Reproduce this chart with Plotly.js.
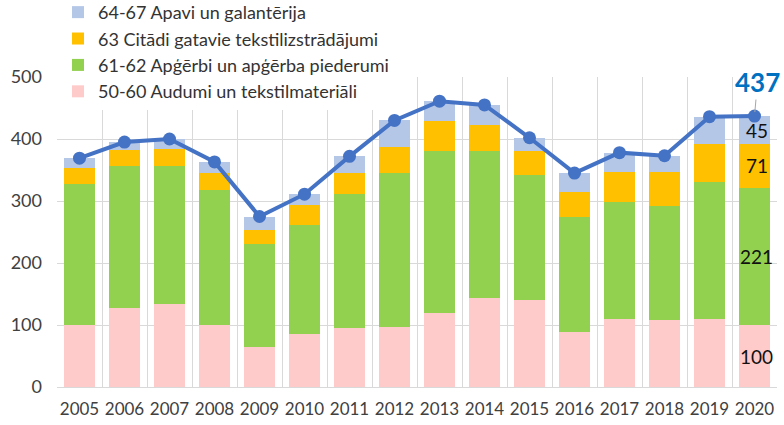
<!DOCTYPE html>
<html>
<head>
<meta charset="utf-8">
<script src="https://cdn.plot.ly/plotly-3.0.1.min.js"></script>
<style>html,body{margin:0;padding:0;background:#fff;}#chart{width:784px;height:425px;}</style>
</head>
<body>
<div id="chart"></div>
<script>
const years = ['2005','2006','2007','2008','2009','2010','2011','2012','2013','2014','2015','2016','2017','2018','2019','2020'];
const fabrics   = [100,127,134,100,65,86,95,97,120,143,140,88,109,108,109,100]; // 50-60
const clothing  = [227,229,222,217,166,175,217,248,261,237,202,186,190,184,222,221]; // 61-62
const otherText = [27,27,28,28,23,32,33,42,48,43,38,41,48,55,61,71]; // 63
const footwear  = [15,12,16,18,21,18,27,43,32,32,22,30,31,26,44,45]; // 64-67
const totals    = [369,395,400,363,275,311,372,430,461,455,402,345,378,373,436,437];
const names = ['50-60 Audumi un tekstilmateriāli','61-62 Apģērbi un apģērba piederumi','63 Citādi gatavie tekstilizstrādājumi','64-67 Apavi un galantērija'];
const colors = ['#FFCACA','#92D050','#FFC000','#B4C7E7'];
const yTicks = [0,100,200,300,400,500];
const gridTicks = [100,200,300,400];

const FONT = 'Lato, "Open Sans", sans-serif';
const series = [fabrics, clothing, otherText, footwear];
const traces = series.map((s,i)=>({
  type:'bar', x:years, y:s, name:names[i], marker:{color:colors[i]}, hoverinfo:'skip'
}));
traces.push({
  type:'scatter', mode:'lines+markers', x:years, y:totals, showlegend:false,
  line:{color:'#4472C4', width:4}, marker:{color:'#4472C4', size:13}, hoverinfo:'skip'
});
traces.push({type:'scatter', x:[years[0]], y:[0], yaxis:'y2', mode:'markers', marker:{opacity:0}, showlegend:false, hoverinfo:'skip'});

// labels for last year
const li = years.length-1;
const annotations = [];
let cum = 0;
series.forEach((s)=>{
  const v = s[li];
  annotations.push({xref:'x', yref:'y', x:li, y:cum+v/2, text:String(v), showarrow:false,
    font:{family:FONT, size:19, color:'#111'}, xanchor:'center', yanchor:'middle', xshift:2});
  cum += v;
});
annotations.push({xref:'x', yref:'y', x:li, y:totals[li], text:'<b>'+totals[li]+'</b>', showarrow:true,
  arrowhead:0, arrowwidth:1, arrowcolor:'#a6a6a6', ax:3, ay:-34, standoff:4,
  font:{family:FONT, size:26, color:'#0070C0'}});

const layout = {
  width:784, height:425,
  margin:{l:57, r:7, t:77, b:38, pad:0, autoexpand:false},
  paper_bgcolor:'#fff', plot_bgcolor:'#fff',
  barmode:'stack', bargap:0.333,
  font:{family:FONT, color:'#404040'},
  xaxis:{type:'category', tickson:'boundaries', showgrid:true, gridcolor:'#d9d9d9', gridwidth:1,
    ticks:'', showline:true, linecolor:'#d9d9d9', linewidth:1, range:[-0.5,15.5], tickangle:0,
    tickfont:{family:FONT, size:17, color:'#404040'}, ticklabelstandoff:7},
  yaxis:{range:[0,500], tickvals:yTicks, ticktext:yTicks.map(String), showgrid:false, zeroline:false,
    ticks:'', tickfont:{family:FONT, size:18, color:'#404040'}, ticklabelstandoff:14},
  yaxis2:{range:[0,500], overlaying:'y', side:'left', tickvals:gridTicks, showgrid:true,
    gridcolor:'#d9d9d9', gridwidth:1, showticklabels:false, zeroline:false, ticks:''},
  legend:{x:0.0014, xanchor:'left', y:1.268, yanchor:'top', traceorder:'reversed',
    bgcolor:'#fff', font:{family:FONT, size:18, color:'#333'}, tracegroupgap:0, itemclick:false},
  annotations:annotations,
  showlegend:true
};
Plotly.newPlot('chart', traces, layout, {staticPlot:true, displayModeBar:false});
</script>
</body>
</html>
